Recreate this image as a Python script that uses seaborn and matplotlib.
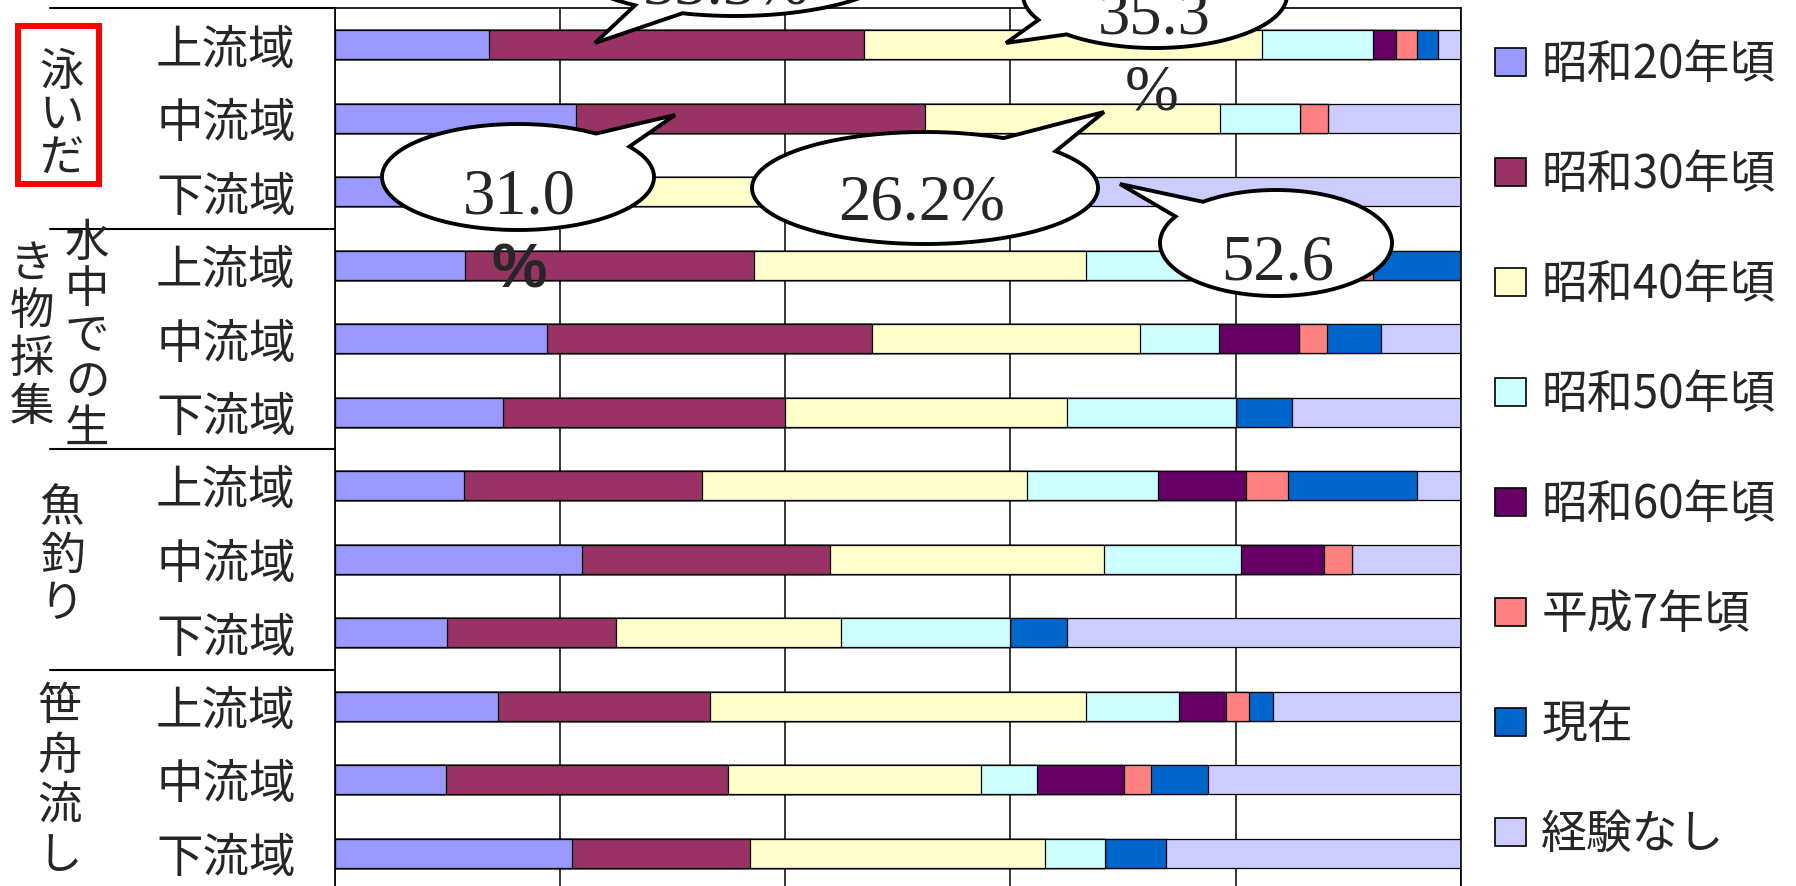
import numpy as np
import matplotlib
matplotlib.use("Agg")
import matplotlib.pyplot as plt
from matplotlib.patches import Patch, PathPatch, Rectangle
from matplotlib.path import Path
from matplotlib.lines import Line2D
from matplotlib import transforms
import seaborn as sns

# Activities (row groups) and river sections (rows within each group)
groups = ["泳いだ", "水中での生き物採集", "魚釣り", "笹舟流し"]
regions = ["上流域", "中流域", "下流域"]
periods = ["昭和20年頃", "昭和30年頃", "昭和40年頃", "昭和50年頃",
           "昭和60年頃", "平成7年頃", "現在", "経験なし"]

# Share (%) of answers per period, one value per row (group x region)
s20 = [13.7, 21.4, 12.0, 11.6, 18.9, 15.0, 11.5, 22.0, 10.0, 14.5, 9.9, 21.1]
s30 = [33.3, 31.0, 13.0, 25.6, 28.8, 25.0, 21.1, 22.0, 15.0, 18.8, 25.0, 15.8]
s40 = [35.3, 26.2, 15.0, 29.5, 23.8, 25.0, 28.9, 24.3, 20.0, 33.4, 22.5, 26.2]
s50 = [9.9, 7.1, 5.0, 14.0, 7.0, 15.0, 11.6, 12.2, 15.0, 8.3, 5.0, 5.3]
s60 = [2.0, 0.0, 0.0, 9.5, 7.1, 0.0, 7.8, 7.3, 0.0, 4.1, 7.7, 0.0]
h07 = [1.9, 2.5, 0.0, 2.0, 2.5, 0.0, 3.7, 2.5, 0.0, 2.1, 2.4, 0.0]
now = [1.9, 0.0, 2.4, 7.8, 4.8, 5.0, 11.5, 0.0, 5.0, 2.1, 5.0, 5.4]
never = [2.0, 11.8, 52.6, 0.0, 7.1, 15.0, 3.9, 9.7, 35.0, 16.7, 22.5, 26.2]

colors = ["#9999FF", "#993366", "#FFFFCC", "#CCFFFF",
          "#660066", "#FF8080", "#0066CC", "#CCCCFF"]

W, H, DPI = 1796, 886, 100
FS = 33.5
FS_V = 32
LEG_FS = 33

sns.set_style("white")
plt.rcParams["font.family"] = ["Noto Sans CJK JP", "DejaVu Sans"]

fig = plt.figure(figsize=(W / DPI, H / DPI), dpi=DPI)
fig.patch.set_facecolor("white")
ax = fig.add_axes([334.5 / W, 1 - 890 / H, 1126.5 / W, 882 / H])

row_keys = [f"{g}/{r}" for g in groups for r in regions]
values = np.array([s20, s30, s40, s50, s60, h07, now, never])
cum = values.cumsum(axis=0)

# Stacked bars: draw cumulative totals from the longest to the shortest
for k in reversed(range(len(periods))):
    sns.barplot(x=cum[k], y=row_keys, order=row_keys, orient="h",
                color=colors[k], saturation=1, width=0.4,
                edgecolor="black", linewidth=0.9, errorbar=None, ax=ax)

ax.set_xlim(0, 100)
ax.set_ylim(11.5, -0.5)
ax.set_xlabel("")
ax.set_ylabel("")
ax.set_xticks(range(0, 101, 20))
ax.xaxis.grid(True, color="black", linewidth=1.1)
ax.yaxis.grid(False)
ax.set_axisbelow(True)
ax.tick_params(axis="x", length=0, labelbottom=False)

ax.set_yticks(range(len(row_keys)))
ax.set_yticklabels(regions * len(groups), fontsize=FS)
ax.tick_params(axis="y", which="major", length=0, pad=28)
ax.set_yticks(np.arange(0.5, 11, 1), minor=True)
ax.tick_params(axis="y", which="minor", direction="in", length=9,
               width=1.2, color="black")
for sp in ax.spines.values():
    sp.set_visible(True)
    sp.set_color("black")
    sp.set_linewidth(1.2)

# Separators between activity groups, left of the axis
tr = transforms.blended_transform_factory(ax.transAxes, ax.transData)
x0 = (50 - 334.5) / 1126.5
for b in [-0.5, 2.5, 5.5, 8.5, 11.5]:
    ax.add_line(Line2D([x0, 0], [b, b], transform=tr, color="black",
                       lw=1.5, clip_on=False))


def fxy(x, y):
    return x / W, 1 - y / H


def vtext(chars, x, y0, pitch, **kw):
    for i, ch in enumerate(chars):
        fx, fy = fxy(x, y0 + i * pitch)
        fig.text(fx, fy, ch, ha="center", va="center", fontsize=FS_V, **kw)


# Vertical group labels
vtext("泳いだ", 62, 72, 43)
vtext("水中での生", 87, 243, 46.5)
vtext("き物採集", 32, 264, 47.5)
vtext("魚釣り", 62, 508, 48)
vtext("笹舟流し", 60, 706, 50)

bx, by = fxy(18, 184)
fig.add_artist(Rectangle((bx, by), 81 / W, 158 / H, transform=fig.transFigure,
                         fill=False, edgecolor="#FF0000", lw=4.3, zorder=4))


def bubble(cx, cy, rx, ry, t1, t2, tip):
    ts = np.radians(np.linspace(t2, t1 + 360, 240))
    pts = [tip] + [(cx + rx * np.cos(t), cy - ry * np.sin(t)) for t in ts]
    pts = [fxy(px, py) for px, py in pts]
    path = Path(pts + [pts[0]], closed=True)
    fig.add_artist(PathPatch(path, transform=fig.transFigure, facecolor="white",
                             edgecolor="black", lw=2.8, zorder=5,
                             joinstyle="miter"))


def btext(x, y, s, **kw):
    fx, fy = fxy(x, y)
    opts = dict(ha="center", va="baseline", fontsize=46.5,
                family="Liberation Serif", zorder=6)
    opts.update(kw)
    fig.text(fx, fy, s, **opts)


bubble(735, -40, 170, 56, 234, 252, (595, 43))
btext(726, 3, f"{s30[0]:.1f}%")

bubble(1155, -5, 132, 53, 208, 228, (1006, 43))
btext(1154, 34, f"{s40[0]:.1f}")
btext(1152, 110, "%")

bubble(518, 177, 136, 53, 35, 55, (675, 115))
btext(519, 213, f"{s30[1]:.1f}")
btext(519, 288, "%", family="Liberation Sans", weight="bold", fontsize=45)

bubble(925, 188, 173, 56, 41, 63, (1104, 112))
btext(922, 219, f"{s40[1]:.1f}%")

bubble(1276, 243, 116, 53, 129, 150, (1120, 184))
btext(1278, 279, f"{never[2]:.1f}")

handles = [Patch(facecolor=c, edgecolor="black", lw=1.2) for c in colors]
fig.legend(handles, periods, loc="upper left",
           bbox_to_anchor=fxy(1495, 41), frameon=False, fontsize=LEG_FS,
           handlelength=0.68, handleheight=0.57, handletextpad=0.33,
           labelspacing=1.34, borderpad=0, borderaxespad=0)

fig.savefig("out.png", dpi=DPI, facecolor="white")
